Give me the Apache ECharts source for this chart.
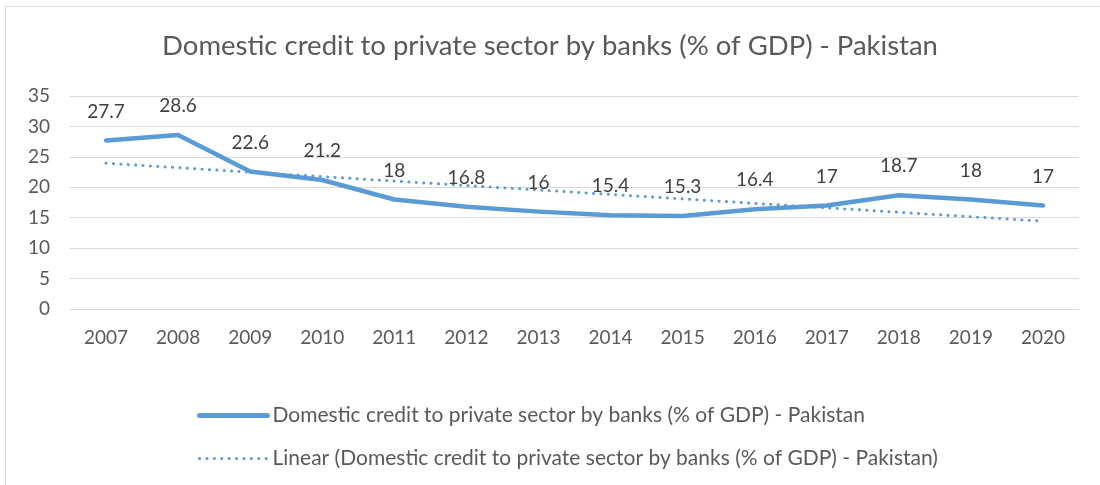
<!DOCTYPE html>
<html>
<head>
<meta charset="utf-8">
<script src="https://cdn.jsdelivr.net/npm/echarts@6/dist/echarts.min.js"></script>
<style>
  html, body { margin: 0; padding: 0; background: #fff; }
  #chart { width: 1100px; height: 485px; }
</style>
</head>
<body>
<div id="chart"></div>
<script>
const years = ['2007', '2008', '2009', '2010', '2011', '2012', '2013', '2014', '2015', '2016', '2017', '2018', '2019', '2020']
const credit = [27.7, 28.6, 22.6, 21.2, 18, 16.8, 16, 15.4, 15.3, 16.4, 17, 18.7, 18, 17]
// trendline end points (Excel linear trend)
const trendEnds = [23.95, 14.43]
const yTicks = [0, 35, 5] // min, max, step

const seriesName = 'Domestic credit to private sector by banks (% of GDP) - Pakistan'
const trendName = 'Linear (' + seriesName + ')'
const font = 'Lato, "Open Sans", sans-serif'
const textGrey = '#595959'
const blue = '#5b9bd5'

const chart = echarts.init(document.getElementById('chart'))
chart.setOption({
  animation: false,
  textStyle: { fontFamily: font },
  title: {
    text: seriesName,
    left: 'center',
    top: 27,
    textStyle: { fontFamily: font, fontSize: 27.5, fontWeight: 'normal', color: textGrey },
  },
  graphic: [
    {
      type: 'rect',
      shape: { x: 5.5, y: 6.5, width: 1200, height: 600 },
      style: { fill: 'none', stroke: '#d9d9d9', lineWidth: 1 },
      silent: true,
    },
  ],
  grid: { left: 70, right: 21, top: 96, bottom: 176 },
  legend: {
    orient: 'vertical',
    left: 192,
    top: 400,
    itemGap: 22,
    itemWidth: 68,
    itemHeight: 14,
    itemStyle: { opacity: 0 },
    textStyle: { fontFamily: font, fontSize: 21, color: textGrey },
    data: [
      { name: seriesName, lineStyle: { width: 5, cap: 'round' } },
      { name: trendName, lineStyle: { width: 3, type: [0.1, 7.3], cap: 'round' } },
    ],
  },
  xAxis: {
    type: 'category',
    data: years,
    boundaryGap: true,
    axisLine: { show: true, lineStyle: { color: '#d9d9d9', width: 1 } },
    axisTick: { show: false },
    axisLabel: { fontFamily: font, fontSize: 19, color: textGrey, margin: 19 },
  },
  yAxis: {
    type: 'value',
    min: yTicks[0],
    max: yTicks[1],
    interval: yTicks[2],
    axisLine: { show: false },
    axisTick: { show: false },
    axisLabel: { fontFamily: font, fontSize: 19, color: textGrey, margin: 20 },
    splitLine: { lineStyle: { color: '#d9d9d9', width: 1 } },
  },
  series: [
    {
      name: seriesName,
      type: 'line',
      data: credit,
      symbol: 'circle',
      symbolSize: 1,
      showSymbol: true,
      itemStyle: { color: 'rgba(91,155,213,0)', borderWidth: 0 },
      lineStyle: { color: blue, width: 4.5, cap: 'round', join: 'round' },
      label: {
        show: true,
        position: 'top',
        distance: 19,
        fontFamily: font,
        fontSize: 19,
        color: '#404040',
      },
      z: 3,
    },
    {
      name: trendName,
      type: 'line',
      data: [[years[0], trendEnds[0]], [years[years.length - 1], trendEnds[1]]],
      symbol: 'none',
      lineStyle: { color: blue, width: 3, type: [0.1, 7.3], cap: 'round' },
      itemStyle: { color: blue },
      z: 2,
    },
  ],
})
</script>
</body>
</html>
